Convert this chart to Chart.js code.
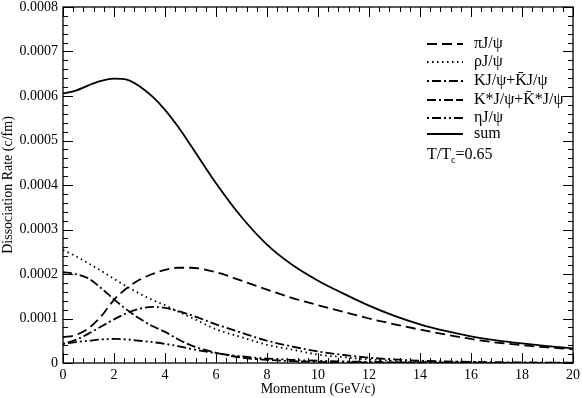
<!DOCTYPE html>
<html>
<head>
<meta charset="utf-8">
<script src="https://cdn.jsdelivr.net/npm/chart.js@4"></script>
<style>
  html, body { margin: 0; padding: 0; background: #fff; }
  #c { display: block; }
</style>
</head>
<body>
<canvas id="c" width="582" height="398"></canvas>
<script>
// ---- data ----
const momentum = [0,0.5,1,1.5,2,2.5,3,3.5,4,4.5,5,6,7,8,9,10,11,12,13,14,15,16,17,18,19,20];

const sumRate  = [6.06e-4,6.12e-4,6.24e-4,6.34e-4,6.39e-4,6.37e-4,6.22e-4,5.99e-4,5.69e-4,5.32e-4,4.90e-4,4.04e-4,3.28e-4,2.66e-4,2.20e-4,1.85e-4,1.56e-4,1.29e-4,1.06e-4,0.87e-4,0.72e-4,0.60e-4,0.51e-4,0.44e-4,0.38e-4,0.33e-4];
const piRate   = [0.58e-4,0.63e-4,0.78e-4,1.05e-4,1.42e-4,1.68e-4,1.87e-4,2.00e-4,2.09e-4,2.14e-4,2.14e-4,2.04e-4,1.85e-4,1.65e-4,1.46e-4,1.30e-4,1.15e-4,1.00e-4,0.87e-4,0.75e-4,0.64e-4,0.54e-4,0.46e-4,0.40e-4,0.35e-4,0.31e-4];
const rhoRate  = [2.54e-4,2.40e-4,2.24e-4,2.07e-4,1.89e-4,1.72e-4,1.56e-4,1.42e-4,1.30e-4,1.16e-4,1.03e-4,0.76e-4,0.58e-4,0.41e-4,0.30e-4,0.19e-4,0.13e-4,0.08e-4,0.05e-4,0.035e-4,0.025e-4,0.018e-4,0.012e-4,0.008e-4,0.006e-4,0.004e-4];
const kRate    = [0.43e-4,0.52e-4,0.66e-4,0.82e-4,0.98e-4,1.12e-4,1.22e-4,1.26e-4,1.24e-4,1.17e-4,1.08e-4,0.87e-4,0.68e-4,0.50e-4,0.37e-4,0.26e-4,0.18e-4,0.12e-4,0.08e-4,0.05e-4,0.035e-4,0.025e-4,0.018e-4,0.012e-4,0.008e-4,0.006e-4];
const kstarRate= [2.04e-4,2.00e-4,1.90e-4,1.68e-4,1.43e-4,1.20e-4,1.00e-4,0.83e-4,0.70e-4,0.54e-4,0.40e-4,0.23e-4,0.12e-4,0.07e-4,0.04e-4,0.025e-4,0.016e-4,0.01e-4,0.007e-4,0.005e-4,0.004e-4,0.003e-4,0.002e-4,0.002e-4,0.001e-4,0.001e-4];
const etaRate  = [0.43e-4,0.47e-4,0.50e-4,0.53e-4,0.54e-4,0.53e-4,0.50e-4,0.47e-4,0.43e-4,0.38e-4,0.32e-4,0.22e-4,0.15e-4,0.10e-4,0.07e-4,0.05e-4,0.035e-4,0.025e-4,0.018e-4,0.012e-4,0.009e-4,0.006e-4,0.004e-4,0.003e-4,0.002e-4,0.002e-4];

const seriesLabels = ['\u03C0J/\u03C8', '\u03C1J/\u03C8', 'KJ/\u03C8+K\u0304J/\u03C8', 'K*J/\u03C8+K\u0304*J/\u03C8', '\u03B7J/\u03C8', 'sum'];
const annotationText = ['T/T', 'c', '=0.65'];

const xTicksMajor = 2;
const yTicksMajor = 0.0001;
const xMinorStep = 0.4;
const yMinorStep = 0.00002;

// ---- styles ----
const FONT = '"Liberation Serif", "Times New Roman", serif';
const dashes = [[10,5],[1.5,3.5],[2,3,9,3],[9,3,2,3,9,3],[2,3,9,3,2,3],[]];
const seriesData = [piRate, rhoRate, kRate, kstarRate, etaRate, sumRate];

const datasets = seriesData.map((arr, i) => ({
  label: seriesLabels[i],
  data: momentum.map((x, j) => ({ x: x, y: arr[j] })),
  borderColor: '#000',
  borderWidth: 1.8,
  borderDash: dashes[i],
  pointRadius: 0,
  fill: false,
  cubicInterpolationMode: 'monotone'
}));

const framePlugin = {
  id: 'frameTicks',
  afterDatasetsDraw(chart) {
    const ctx = chart.ctx;
    const { left, right, top, bottom } = chart.chartArea;
    const xs = chart.scales.x, ys = chart.scales.y;
    ctx.save();
    ctx.strokeStyle = '#000';
    ctx.lineWidth = 1.3;
    ctx.setLineDash([]);
    ctx.strokeRect(left, top, right - left, bottom - top);
    ctx.lineWidth = 1;
    ctx.beginPath();
    for (let k = 0; k <= 50; k++) {
      const v = k * xMinorStep;
      const px = Math.round(xs.getPixelForValue(v)) + 0.5;
      const major = k % 5 === 0;
      const len = major ? 10 : 5;
      ctx.moveTo(px, bottom); ctx.lineTo(px, bottom - len);
      ctx.moveTo(px, top); ctx.lineTo(px, top + len);
    }
    for (let k = 0; k <= 40; k++) {
      const v = k * yMinorStep;
      const py = Math.round(ys.getPixelForValue(v)) + 0.5;
      const major = k % 5 === 0;
      const len = major ? 10 : 5;
      ctx.moveTo(left, py); ctx.lineTo(left + len, py);
      ctx.moveTo(right, py); ctx.lineTo(right - len, py);
    }
    ctx.stroke();

    // legend
    const lx0 = 427, lx1 = 463, tx = 474;
    const rows = [44, 62, 81, 100, 118, 134];
    ctx.font = '16px ' + FONT;
    ctx.fillStyle = '#000';
    ctx.textBaseline = 'middle';
    chart.data.datasets.forEach((ds, i) => {
      ctx.beginPath();
      ctx.lineWidth = 1.8;
      ctx.setLineDash(ds.borderDash);
      ctx.moveTo(lx0, rows[i]); ctx.lineTo(lx1, rows[i]);
      ctx.stroke();
      ctx.setLineDash([]);
      ctx.fillText(ds.label, tx, rows[i]);
    });
    // T/Tc annotation
    let ax = 427;
    const ay = 155;
    ctx.fillText(annotationText[0], ax, ay);
    ax += ctx.measureText(annotationText[0]).width;
    ctx.font = '10px ' + FONT;
    ctx.fillText(annotationText[1], ax, ay + 5);
    ax += ctx.measureText(annotationText[1]).width;
    ctx.font = '16px ' + FONT;
    ctx.fillText(annotationText[2], ax, ay);
    ctx.restore();
  }
};

new Chart(document.getElementById('c'), {
  type: 'line',
  data: { datasets: datasets },
  options: {
    responsive: false,
    animation: false,
    devicePixelRatio: 1,
    layout: { padding: { top: 7, right: 9, left: 0, bottom: 0 } },
    plugins: { legend: { display: false }, tooltip: { enabled: false } },
    scales: {
      x: {
        type: 'linear', min: 0, max: 20,
        border: { display: false },
        grid: { display: false, drawTicks: false },
        ticks: { stepSize: xTicksMajor, padding: 4, color: '#000', font: { family: FONT, size: 14 }, maxRotation: 0 },
        title: { display: true, text: 'Momentum (GeV/c)', color: '#000', font: { family: FONT, size: 14 }, padding: { top: 0, bottom: 0 } },
        afterFit(scale) { scale.height = 35; scale.paddingLeft = 0; scale.paddingRight = 0; }
      },
      y: {
        type: 'linear', min: 0, max: 0.0008,
        border: { display: false },
        grid: { display: false, drawTicks: false },
        ticks: { stepSize: yTicksMajor, padding: 5, color: '#000', font: { family: FONT, size: 14 },
          callback: (v) => (Math.abs(v) < 1e-12 ? '0' : Number(v).toFixed(4)) },
        title: { display: true, text: 'Dissociation Rate (c/fm)', color: '#000', font: { family: FONT, size: 14 }, padding: { top: 0, bottom: 0 } },
        afterFit(scale) { scale.width = 63; scale.paddingTop = 0; scale.paddingBottom = 0; }
      }
    }
  },
  plugins: [framePlugin]
});
</script>
</body>
</html>
